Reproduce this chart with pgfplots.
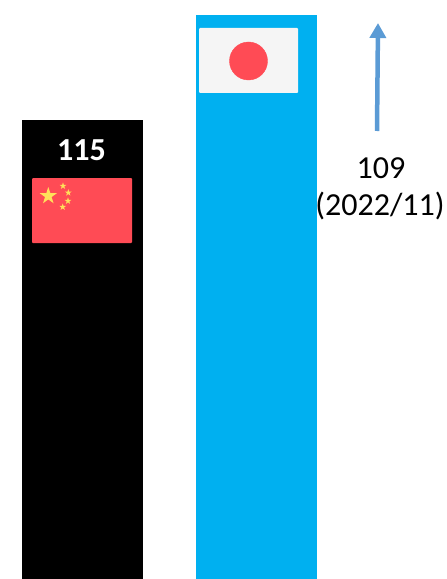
\documentclass[border=0pt]{standalone}
\usepackage{pgfplots}
\usepackage{fontspec}
\setmainfont{Carlito}
\pgfplotsset{compat=1.18}
\usetikzlibrary{arrows.meta}
\definecolor{flagred}{HTML}{FF4B55}
\definecolor{flagwhite}{HTML}{F5F5F5}
\definecolor{staryellow}{HTML}{FFE15A}
\definecolor{jpblue}{HTML}{00B0F0}
\definecolor{arrowblue}{HTML}{5B9BD5}
% filled five-pointed star
\pgfdeclareplotmark{fivestar}{%
  \pgfpathmoveto{\pgfqpointpolar{90}{\pgfplotmarksize}}
  \pgfpathlineto{\pgfpointpolar{126}{.382\pgfplotmarksize}}
  \pgfpathlineto{\pgfpointpolar{162}{\pgfplotmarksize}}
  \pgfpathlineto{\pgfpointpolar{198}{.382\pgfplotmarksize}}
  \pgfpathlineto{\pgfpointpolar{234}{\pgfplotmarksize}}
  \pgfpathlineto{\pgfpointpolar{270}{.382\pgfplotmarksize}}
  \pgfpathlineto{\pgfpointpolar{306}{\pgfplotmarksize}}
  \pgfpathlineto{\pgfpointpolar{342}{.382\pgfplotmarksize}}
  \pgfpathlineto{\pgfpointpolar{18}{\pgfplotmarksize}}
  \pgfpathlineto{\pgfpointpolar{54}{.382\pgfplotmarksize}}
  \pgfpathclose
  \pgfusepathqfill
}
\pgfplotsset{canvas/.style={scale only axis,width=447bp,height=579bp,hide axis,xmin=0,xmax=447}}
\begin{document}
\begin{tikzpicture}
% bars, y in index points
\begin{axis}[canvas,ymin=0,ymax=145.07,bar width=121]
\addplot[ybar,bar shift=0pt,fill=black,draw=none] coordinates {(82.5,115)};
\addplot[ybar,bar shift=0pt,fill=jpblue,draw=none] coordinates {(256.5,141.3)};
\end{axis}
% flags, arrow and labels, in picture pixels from the top
\begin{axis}[canvas,ymin=0,ymax=579,y dir=reverse,clip=false,
  nodes={inner sep=0pt,anchor=base,font=\fontsize{32.2}{37}\selectfont}]
\path (axis cs:0,0) -- (axis cs:447,579); % keeps the page as large as the canvas
\addplot[fill=flagred,draw=none,rounded corners=1bp] coordinates {(32,178)(132,178)(132,243)(32,243)} -- cycle;
\addplot[only marks,mark=fivestar,mark size=9bp,color=staryellow] coordinates {(48.3,196)};
\addplot[only marks,mark=fivestar,mark size=3.6bp,color=staryellow] coordinates {(63,186)(68.3,192.7)(68,201)(62.7,207)};
\addplot[fill=flagwhite,draw=none,rounded corners=1bp] coordinates {(199,28)(298,28)(298,93)(199,93)} -- cycle;
\addplot[only marks,mark=*,mark size=19bp,color=flagred,mark options={draw=none}] coordinates {(248.5,61)};
\addplot[arrowblue,line width=4.5bp,-{Triangle[length=15bp,width=16bp]}] coordinates {(377,131)(378,23)};
\node[text=white,font=\fontsize{32.2}{37}\selectfont\bfseries] at (axis cs:81.5,160) {115};
\node at (axis cs:381,178) {109};
\node at (axis cs:380,215) {(2022/11)};
\end{axis}
\end{tikzpicture}
\end{document}
